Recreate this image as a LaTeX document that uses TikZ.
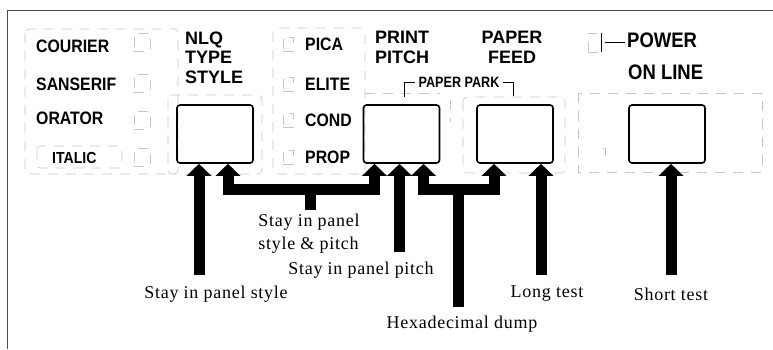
\documentclass[tikz,border=0pt]{standalone}
\usepackage{fontspec}
\setsansfont{Liberation Sans}
\newfontfamily\narrowfont{Liberation Sans}[FakeStretch=0.88]
\newfontfamily\parkfont{Liberation Sans}[FakeStretch=0.84]
\newfontfamily\capfont{Liberation Serif}[LetterSpace=4.0]
\usepackage{tikz}
\usetikzlibrary{arrows.meta,positioning}

\begin{document}
\begin{tikzpicture}[x=1pt,y=-1pt,
    paneltext/.style={font=\narrowfont\bfseries\fontsize{18}{20}\selectfont,inner sep=0pt},
    headtext/.style={font=\sffamily\bfseries\fontsize{18}{19.5}\selectfont,inner sep=0pt},
    powertext/.style={font=\narrowfont\bfseries\fontsize{21}{24}\selectfont,inner sep=0pt},
    parktext/.style={font=\parkfont\bfseries\fontsize{15}{17}\selectfont,inner sep=0pt},
    captext/.style={font=\capfont\fontsize{18}{23}\selectfont,inner sep=0pt},
    keybox/.style={draw,line width=1.6pt,rounded corners=3pt,minimum width=76pt,minimum height=58pt,inner sep=0pt},
    faintline/.style={gray!45,line width=0.6pt,dash pattern=on 10pt off 8pt},
    ledbox/.style={faintline,draw,minimum width=16pt,minimum height=18pt,inner sep=0pt},
    fatline/.style={line width=11pt},
    fatarrow/.style={fatline,-{Triangle[width=24pt,length=12pt]}},
    fatboth/.style={fatline,{Triangle[width=24pt,length=12pt]}-{Triangle[width=24pt,length=12pt]}}]
    \useasboundingbox (0,0) rectangle (773,349);
    \draw[gray!60!black,line width=0.8pt] (7,349) -- (7,10) -- (773,10);

    \draw[faintline,rounded corners=4pt] (25,29) rectangle (178,174);
    \draw[faintline,rounded corners=4pt] (168,95) rectangle (262,174);
    \draw[faintline,rounded corners=4pt] (273,28) rectangle (365,174);
    \draw[faintline] (365,93) -- (440,93);
    \draw[faintline] (450,100) -- (450,122);
    \draw[faintline,rounded corners=4pt] (463,97) rectangle (565,173);
    \draw[faintline] (578,93) rectangle (762,172);
    \draw[faintline] (603,148) -- (605,148) -- (605,162) -- (603,162);
    \draw[faintline,rounded corners=3pt] (37,146) rectangle (122,168);

    \node[keybox] (nlq) at (215,134) {};
    \node[keybox] (pitch) at (401.5,134) {};
    \node[keybox] (feed) at (515,134) {};
    \node[keybox] (online) at (667,134) {};

    \node[paneltext,anchor=west] (courier) at (36,46.5) {COURIER};
    \node[paneltext,anchor=west] (sanserif) at (36,84) {SANSERIF};
    \node[paneltext,anchor=west] (orator) at (36,118.5) {ORATOR};
    \node[paneltext,anchor=west,font=\narrowfont\bfseries\fontsize{16}{18}\selectfont] (italic) at (52,157.5) {ITALIC};
    \foreach \y [count=\i] in {42,83,120,157}
      \node[ledbox] (lstyle\i) at (142,\y) {};

    \node[headtext,align=left,anchor=north west] (nlqtext) at (185,31.5) {NLQ\\TYPE\\STYLE};

    \foreach \y [count=\i] in {44,84,120,157}
      \node[ledbox,minimum width=10pt,minimum height=14pt] (lpitch\i) at (288,\y) {};
    \node[paneltext,anchor=west] (pica) at (305,44) {PICA};
    \node[paneltext,anchor=west] (elite) at (305,84) {ELITE};
    \node[paneltext,anchor=west] (cond) at (305,120) {COND};
    \node[paneltext,anchor=west] (prop) at (305,157) {PROP};

    \node[headtext,align=left,anchor=north west] (pitchtext) at (375,31) {PRINT\\PITCH};
    \node[headtext,align=center,anchor=north] (feedtext) at (512,31) {PAPER\\FEED};
    \node[parktext] (park) at (459,82) {PAPER PARK};
    \draw[line width=0.9pt] ([xshift=-3pt]park.west) -- ++(-11,0) -- ++(0,15);
    \draw[line width=0.9pt] ([xshift=3pt]park.east) -- ++(11,0) -- ++(0,14);

    \node[ledbox,minimum width=13pt,minimum height=19pt] (lpower) at (594.5,42.5) {};
    \draw[line width=0.9pt] (lpower.north east) -- (lpower.south east);
    \node[powertext,anchor=west] (power) at (627,40) {POWER};
    \draw[line width=0.9pt] ([xshift=4pt]lpower.east) -- ([xshift=-2pt]power.west |- lpower.east);
    \node[powertext,anchor=west] (onlinetext) at (628,72.5) {ON LINE};

    \coordinate (sstyle) at (199,275);
    \draw[fatarrow] (sstyle) -- ([xshift=-16pt]nlq.south);
    \coordinate (jleft) at (310,189);
    \coordinate (sboth) at (310,210);
    \draw[fatboth] ([xshift=13pt]nlq.south) |- (jleft) -| ([xshift=-27pt]pitch.south);
    \draw[fatline] (jleft) -- (sboth);
    \coordinate (spitch) at (399.5,252);
    \draw[fatarrow] (spitch) -- ([xshift=-2pt]pitch.south);
    \coordinate (jright) at (458,189);
    \coordinate (shex) at (458,307);
    \draw[fatboth] ([xshift=22pt]pitch.south) |- (jright) -| ([xshift=-21pt]feed.south);
    \draw[fatline] (jright) -- (shex);
    \coordinate (slong) at (541,275);
    \draw[fatarrow] (slong) -- ([xshift=26pt]feed.south);
    \coordinate (sshort) at (671,275);
    \draw[fatarrow] (sshort) -- ([xshift=4pt]online.south);

    \node[captext] (tstyle) at (216,294) {Stay in panel style};
    \node[captext,align=left] (tboth) at (309,233.5) {Stay in panel\\style \& pitch};
    \node[captext] (tpitch) at (361,270) {Stay in panel pitch};
    \node[captext] (thex) at (462,324) {Hexadecimal dump};
    \node[captext] (tlong) at (547,294) {Long test};
    \node[captext] (tshort) at (671,294) {Short test};
\end{tikzpicture}
\end{document}
